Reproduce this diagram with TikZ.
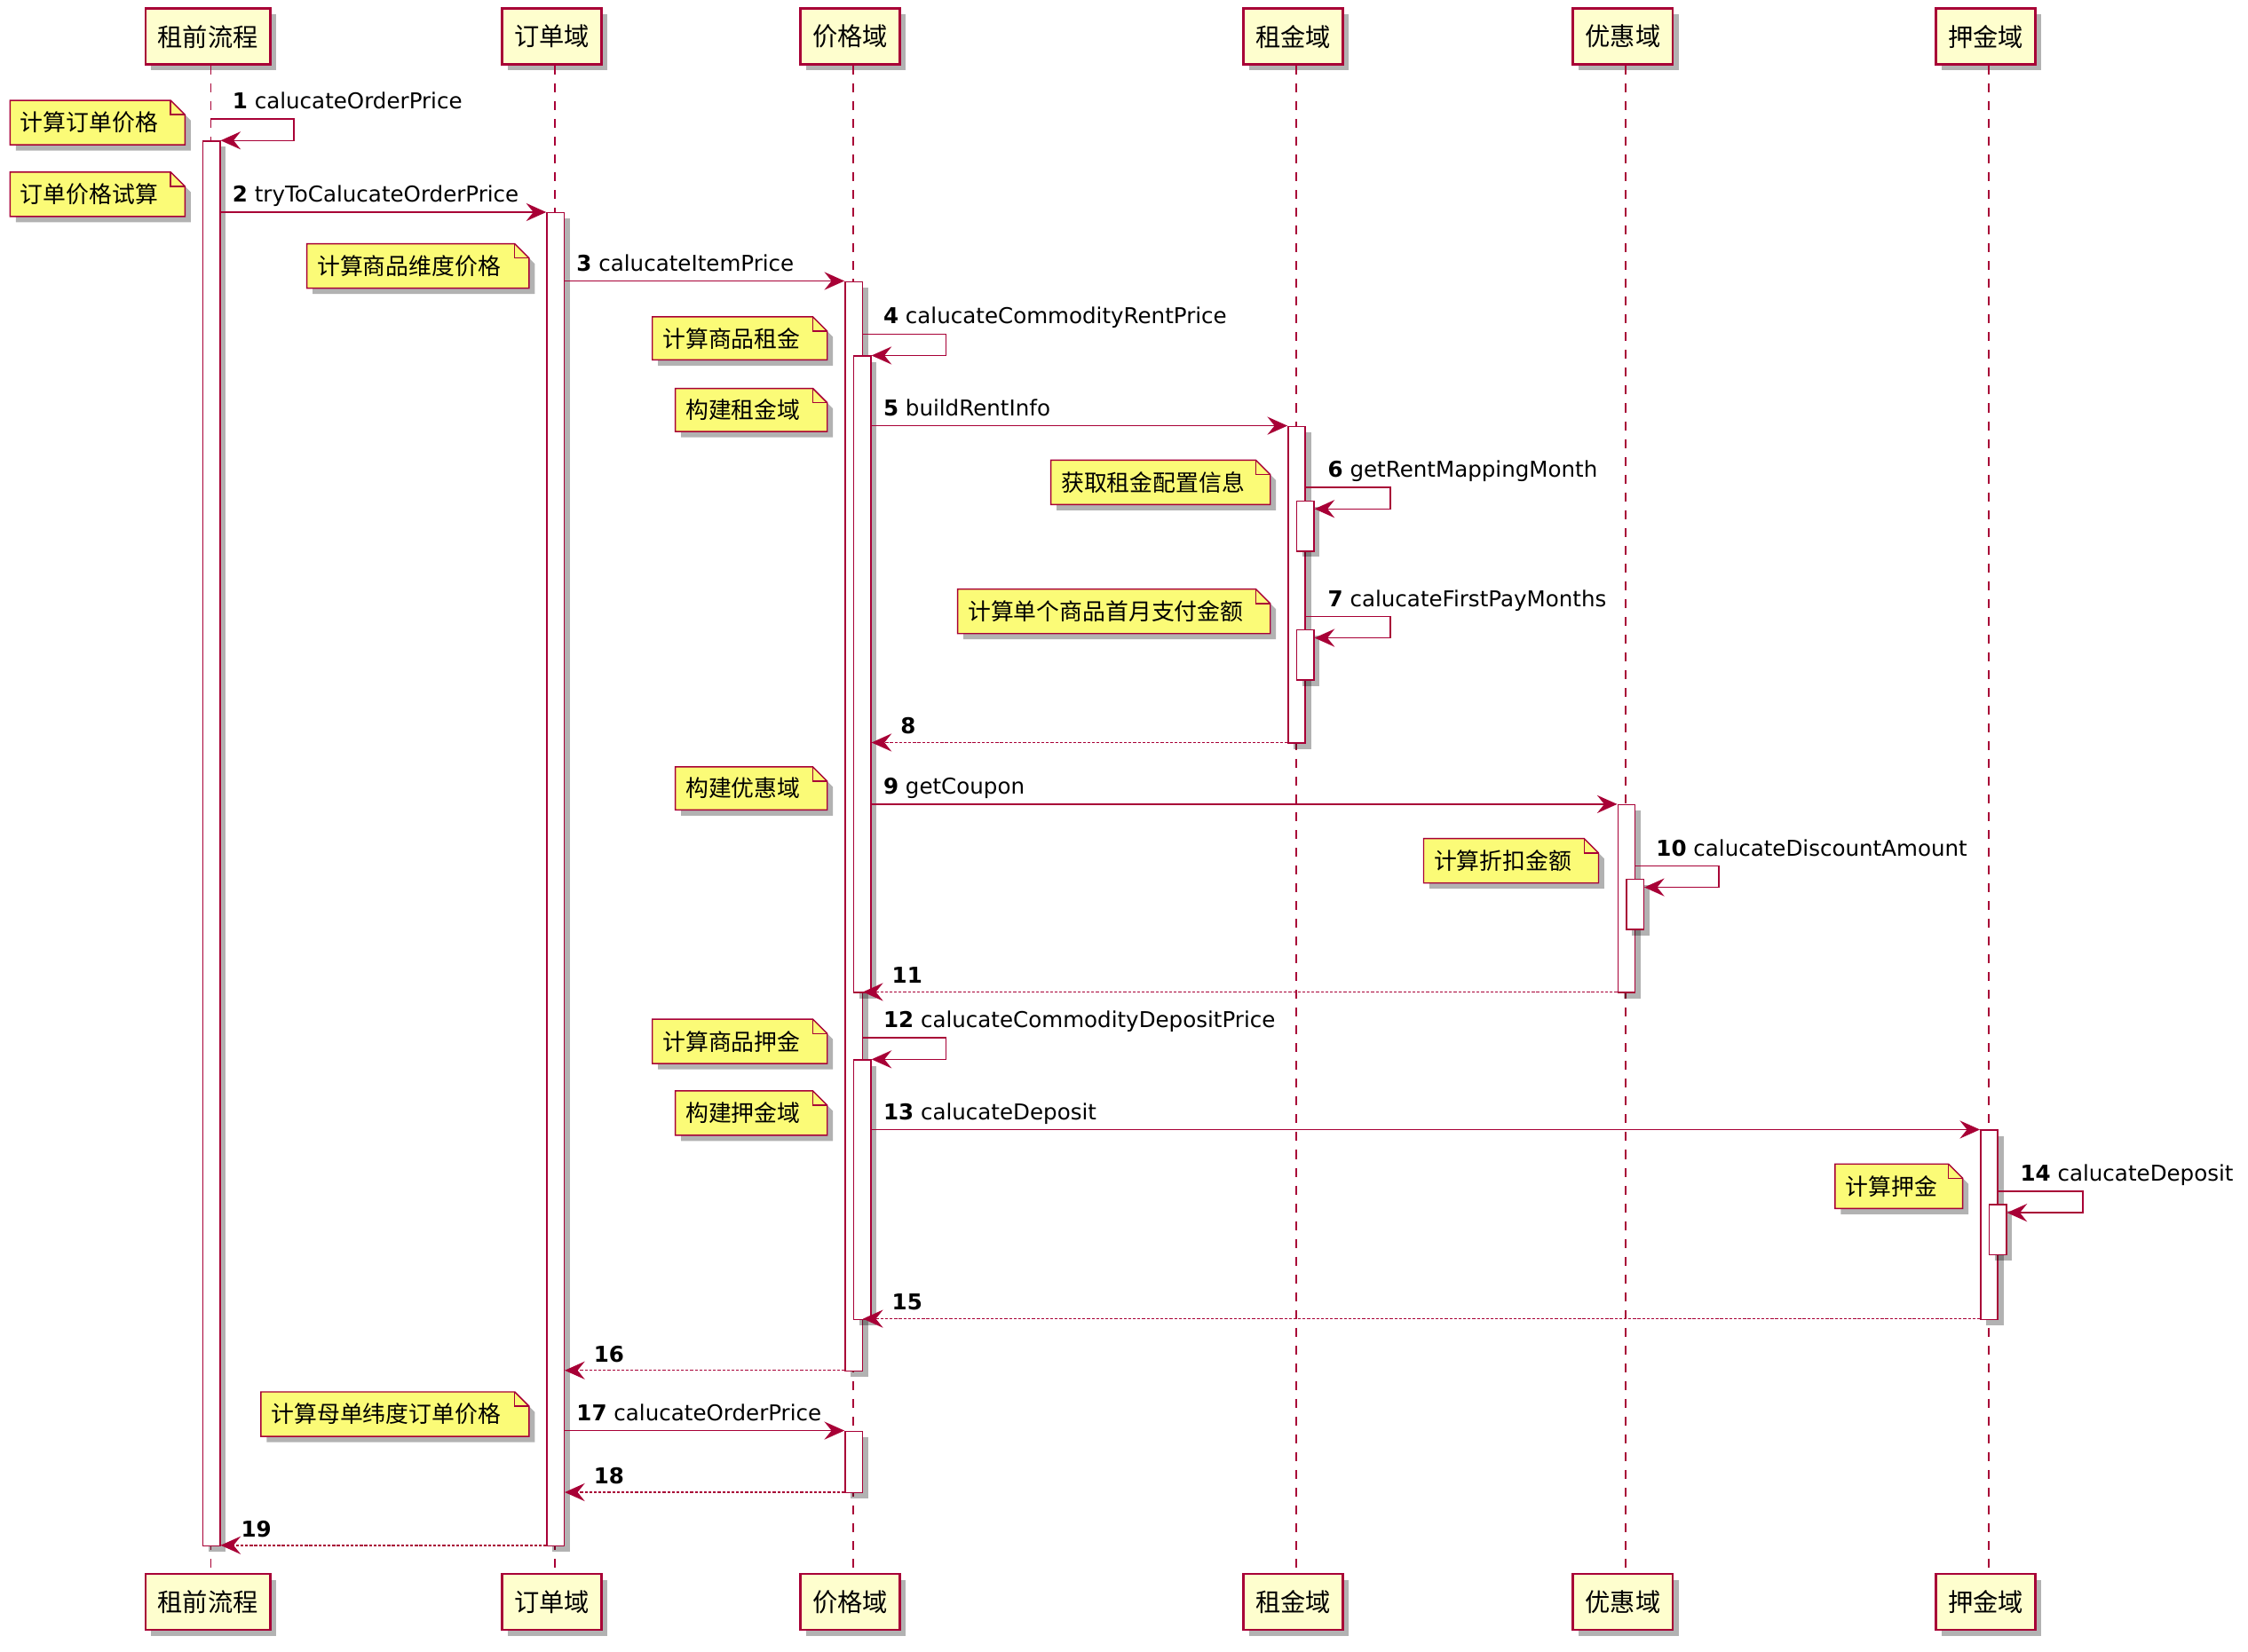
\documentclass[tikz,border=0pt]{standalone}
\usepackage{fontspec}
\setmainfont{DejaVu Sans}
\newfontfamily\cjk{Noto Sans CJK SC}
\usetikzlibrary{arrows.meta,shadows}
\definecolor{pu}{HTML}{A80036}
\definecolor{partfill}{HTML}{FEFECE}
\definecolor{notefill}{HTML}{FBFB77}
\tikzset{
  x=1pt,y=-1pt,
  shadowed/.style={drop shadow={shadow xshift=4pt,shadow yshift=-4pt,fill=black,opacity=0.3}},
  partbox/.style={draw=pu,line width=1.7pt,fill=partfill,inner xsep=8.5pt,inner ysep=0pt,
    minimum height=39pt,text=black,font=\cjk\fontsize{17.5}{20}\selectfont,shadowed},
  lifeline/.style={draw=pu,line width=1pt,dash pattern=on 6.2pt off 6.2pt},
  actbar/.style={draw=pu,line width=0.9pt,fill=white,minimum width=12pt,inner sep=0pt,
    anchor=north west,shadowed},
  msg/.style={draw=pu,line width=0.9pt,-{Stealth[length=14pt,width=12.5pt,inset=5pt]}},
  ret/.style={msg,dash pattern=on 2pt off 1.2pt},
  lbl/.style={font=\fontsize{15.2}{18}\selectfont,anchor=base west,inner sep=0pt,text=black},
  notetext/.style={font=\cjk\fontsize{16}{19}\selectfont,anchor=west,inner sep=0pt,text=black},
  noteshape/.style={draw=pu,fill=notefill,line width=0.9pt,shadowed},
  notefold/.style={draw=pu,line width=0.9pt},
}
\newcommand\mynote[6]{%
  \path[noteshape] (#1,#2) -- (#3-10,#2) -- (#3,#2+10) -- (#3,#4) -- (#1,#4) -- cycle;
  \path[notefold] (#3-10,#2) -- (#3-10,#2+10) -- (#3,#2+10);
  \node[notetext] (#6) at (#1+7,{(#2+#4)/2}) {#5};
}
\begin{document}
\begin{tikzpicture}
\useasboundingbox[fill=white] (0,0) rectangle (1568,1152);

% participants
\node[partbox] (pA)  at (145,25.5) {租前流程};
\node[partbox] (pB)  at (385,25.5) {订单域};
\node[partbox] (pC)  at (593,25.5) {价格域};
\node[partbox] (pD)  at (902,25.5) {租金域};
\node[partbox] (pE)  at (1132,25.5) {优惠域};
\node[partbox] (pF)  at (1385,25.5) {押金域};
\node[partbox] (pAb) at (145,1117.5) {租前流程};
\node[partbox] (pBb) at (385,1117.5) {订单域};
\node[partbox] (pCb) at (593,1117.5) {价格域};
\node[partbox] (pDb) at (902,1117.5) {租金域};
\node[partbox] (pEb) at (1132,1117.5) {优惠域};
\node[partbox] (pFb) at (1385,1117.5) {押金域};

% lifelines
\coordinate (lA) at (147,0);
\coordinate (lB) at (387,0);
\coordinate (lC) at (595,0);
\coordinate (lD) at (904,0);
\coordinate (lE) at (1134,0);
\coordinate (lF) at (1387,0);
\draw[lifeline] (lA |- pA.south) -- (lA |- pAb.north);
\draw[lifeline] (lB |- pB.south) -- (lB |- pBb.north);
\draw[lifeline] (lC |- pC.south) -- (lC |- pCb.north);
\draw[lifeline] (lD |- pD.south) -- (lD |- pDb.north);
\draw[lifeline] (lE |- pE.south) -- (lE |- pEb.north);
\draw[lifeline] (lF |- pF.south) -- (lF |- pFb.north);

% activation bars
\node[actbar,minimum height=980pt] (A1) at (141,98) {};
\node[actbar,minimum height=930pt] (B1) at (381,148) {};
\node[actbar,minimum height=760pt] (C1) at (589,196) {};
\node[actbar,minimum height=444pt] (C2) at (595,248) {};
\node[actbar,minimum height=181pt] (C3) at (595,739) {};
\node[actbar,minimum height=43pt]  (C4) at (589,998) {};
\node[actbar,minimum height=221pt] (D1) at (898,297) {};
\node[actbar,minimum height=35pt]  (D2) at (904,349) {};
\node[actbar,minimum height=35pt]  (D3) at (904,439) {};
\node[actbar,minimum height=131pt] (E1) at (1128,561) {};
\node[actbar,minimum height=35pt]  (E2) at (1134,613) {};
\node[actbar,minimum height=132pt] (F1) at (1381,788) {};
\node[actbar,minimum height=35pt]  (F2) at (1387,840) {};

% messages
\draw[msg] (lA |- 0,83) -- ++(58,0) -- ++(0,15) -- (A1.east |- 0,98);
\node[lbl] (t1) at (162,76) {\textbf{1} calucateOrderPrice};

\draw[msg] (A1.east |- 0,148) -- (B1.west |- 0,148);
\node[lbl] (t2) at (162,141) {\textbf{2} tryToCalucateOrderPrice};

\draw[msg] (B1.east |- 0,196) -- (C1.west |- 0,196);
\node[lbl] (t3) at (402,189) {\textbf{3} calucateItemPrice};

\draw[msg] (C1.east |- 0,233) -- ++(58,0) -- ++(0,15) -- (C2.east |- 0,248);
\node[lbl] (t4) at (616,226) {\textbf{4} calucateCommodityRentPrice};

\draw[msg] (C2.east |- 0,297) -- (D1.west |- 0,297);
\node[lbl] (t5) at (616,290) {\textbf{5} buildRentInfo};

\draw[msg] (D1.east |- 0,340) -- ++(59,0) -- ++(0,15) -- (D2.east |- 0,355);
\node[lbl] (t6) at (926,333) {\textbf{6} getRentMappingMonth};

\draw[msg] (D1.east |- 0,430) -- ++(59,0) -- ++(0,15) -- (D3.east |- 0,445);
\node[lbl] (t7) at (926,423) {\textbf{7} calucateFirstPayMonths};

\draw[ret] (D1.west |- 0,518) -- (C2.east |- 0,518);
\node[lbl] (t8) at (628,512) {\textbf{8}};

\draw[msg] (C2.east |- 0,561) -- (E1.west |- 0,561);
\node[lbl] (t9) at (616,554) {\textbf{9} getCoupon};

\draw[msg] (E1.east |- 0,604) -- ++(58,0) -- ++(0,15) -- (E2.east |- 0,619);
\node[lbl] (t10) at (1155,597) {\textbf{10} calucateDiscountAmount};

\draw[ret] (E1.west |- 0,692) -- (C1.east |- 0,692);
\node[lbl] (t11) at (622,686) {\textbf{11}};

\draw[msg] (C1.east |- 0,724) -- ++(58,0) -- ++(0,15) -- (C3.east |- 0,739);
\node[lbl] (t12) at (616,717) {\textbf{12} calucateCommodityDepositPrice};

\draw[msg] (C3.east |- 0,788) -- (F1.west |- 0,788);
\node[lbl] (t13) at (616,781) {\textbf{13} calucateDeposit};

\draw[msg] (F1.east |- 0,831) -- ++(59,0) -- ++(0,15) -- (F2.east |- 0,846);
\node[lbl] (t14) at (1409,824) {\textbf{14} calucateDeposit};

\draw[ret] (F1.west |- 0,920) -- (C1.east |- 0,920);
\node[lbl] (t15) at (622,914) {\textbf{15}};

\draw[ret] (C1.west |- 0,956) -- (B1.east |- 0,956);
\node[lbl] (t16) at (414,950) {\textbf{16}};

\draw[msg] (B1.east |- 0,998) -- (C4.west |- 0,998);
\node[lbl] (t17) at (402,991) {\textbf{17} calucateOrderPrice};

\draw[ret] (C4.west |- 0,1041) -- (B1.east |- 0,1041);
\node[lbl] (t18) at (414,1035) {\textbf{18}};

\draw[ret] (B1.west |- 0,1078) -- (A1.east |- 0,1078);
\node[lbl] (t19) at (168,1072) {\textbf{19}};

% notes
\mynote{7}{70}{129}{101}{计算订单价格}{n1}
\mynote{7}{120}{129}{151}{订单价格试算}{n2}
\mynote{214}{170}{369}{201}{计算商品维度价格}{n3}
\mynote{455}{221}{577}{251}{计算商品租金}{n4}
\mynote{471}{271}{577}{301}{构建租金域}{n5}
\mynote{733}{321}{886}{352}{获取租金配置信息}{n6}
\mynote{668}{411}{886}{442}{计算单个商品首月支付金额}{n7}
\mynote{471}{535}{577}{565}{构建优惠域}{n8}
\mynote{993}{585}{1115}{616}{计算折扣金额}{n9}
\mynote{455}{711}{577}{742}{计算商品押金}{n10}
\mynote{471}{761}{577}{792}{构建押金域}{n11}
\mynote{1280}{812}{1369}{843}{计算押金}{n12}
\mynote{182}{971}{369}{1002}{计算母单纬度订单价格}{n13}
\end{tikzpicture}
\end{document}
